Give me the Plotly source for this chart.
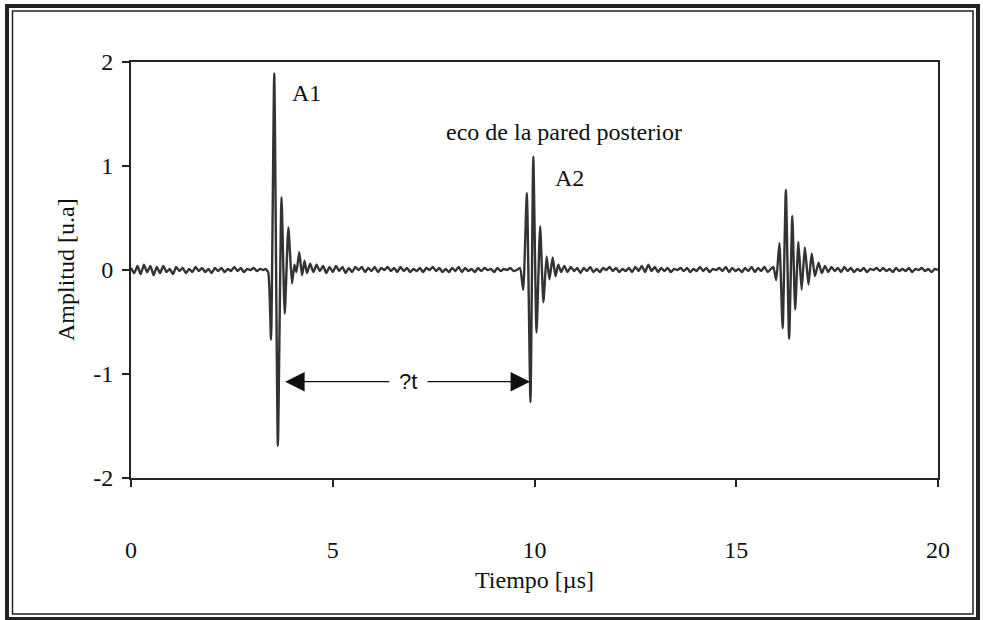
import numpy as np
import plotly.graph_objects as go

# ---------------- data ----------------
# baseline noise segments: start time, step, amplitudes
noise_a_start, noise_step = 0.0, 0.08
noise_a = [0.02, -0.03, 0.04, -0.04, 0.05, -0.02, 0.04, -0.05, 0.03, -0.03,
           0.04, -0.02, 0.01, -0.04, 0.03, -0.01, 0.02, -0.03, 0.01, -0.02,
           0.03, -0.01, 0.02, -0.02, 0.01, -0.03, 0.02, -0.01, 0.02, -0.02,
           0.01, -0.01, 0.03, -0.01, 0.02, -0.02, 0.01, 0.0, 0.02, -0.01,
           0.01, 0.0]

pulse1_t = [3.33, 3.40, 3.47, 3.55, 3.64, 3.73, 3.81, 3.90, 3.99, 4.05, 4.10, 4.17, 4.24, 4.30, 4.36]
pulse1_a = [0.01, -0.02, -0.67, 1.89, -1.69, 0.70, -0.42, 0.41, -0.13, 0.05, -0.02, 0.17, -0.05, 0.09, -0.03]

noise_b_start = 4.44
noise_b = [0.06, -0.02, 0.05, -0.01, 0.04, -0.03, 0.03, -0.02, 0.04, -0.01,
           0.03, -0.03, 0.02, -0.02, 0.03, 0.0, 0.03, -0.02, 0.02, -0.01,
           0.03, -0.02, 0.02, 0.0, 0.03, -0.01, 0.02, -0.02, 0.03, -0.01,
           0.02, -0.02, 0.01, -0.01, 0.02, -0.02, 0.02, 0.0, 0.03, -0.01,
           0.02, -0.02, 0.01, -0.02, 0.02, -0.01, 0.03, -0.02, 0.02, -0.01,
           0.01, -0.02, 0.02, -0.01, 0.02, 0.0, 0.01, -0.02, 0.02, -0.01,
           0.01, 0.0, 0.02, -0.01, 0.0]

pulse2_t = [9.64, 9.72, 9.81, 9.90, 9.97, 10.05, 10.14, 10.22, 10.30, 10.37, 10.45, 10.52, 10.59]
pulse2_a = [0.02, -0.19, 0.74, -1.27, 1.09, -0.60, 0.42, -0.31, 0.13, -0.09, 0.12, -0.06, 0.05]

noise_c_start = 10.66
noise_c = [-0.02, 0.04, -0.02, 0.03, -0.01, 0.02, -0.03, 0.02, -0.01, 0.03,
           -0.02, 0.01, -0.02, 0.02, 0.0, 0.03, -0.01, 0.02, -0.02, 0.01,
           -0.01, 0.02, -0.02, 0.03, -0.01, 0.04, -0.02, 0.05, -0.01, 0.03,
           -0.02, 0.02, -0.01, 0.02, -0.02, 0.01, 0.0, 0.02, -0.01, 0.02,
           -0.02, 0.01, -0.01, 0.03, -0.01, 0.02, -0.02, 0.01, 0.0, 0.02,
           -0.01, 0.03, -0.02, 0.02, -0.01, 0.01, -0.02, 0.02, -0.01, 0.03,
           -0.02, 0.02, -0.01, 0.03, -0.02, 0.01]

pulse3_t = [15.92, 15.99, 16.07, 16.15, 16.23, 16.31, 16.39, 16.46, 16.54, 16.62,
            16.70, 16.79, 16.87, 16.95, 17.04, 17.12, 17.20]
pulse3_a = [0.03, -0.10, 0.26, -0.56, 0.77, -0.66, 0.52, -0.38, 0.27, -0.19,
            0.22, -0.14, 0.16, -0.06, 0.07, -0.03, 0.04]

noise_d_start = 17.28
noise_d = [-0.02, 0.03, -0.01, 0.02, -0.02, 0.03, -0.01, 0.02, -0.02, 0.01,
           -0.01, 0.02, -0.02, 0.01, 0.0, 0.02, -0.01, 0.02, -0.01, 0.01,
           -0.02, 0.02, -0.01, 0.01, -0.01, 0.02, -0.02, 0.01, 0.0, 0.02,
           -0.01, 0.01, -0.02, 0.01, 0.0]

x_tick_vals = [0, 5, 10, 15, 20]
x_tick_text = ["0", "5", "10", "15", "20"]
y_tick_vals = [-2, -1, 0, 1, 2]
y_tick_text = ["-2", "-1", "0", "1", "2"]

x_title = "Tiempo [µs]"
y_title = "Amplitud [u.a]"

# ---------------- assemble series ----------------
def grid(start, vals):
    return list(np.round(start + noise_step * np.arange(len(vals)), 3))

t = (grid(noise_a_start, noise_a) + pulse1_t + grid(noise_b_start, noise_b) + pulse2_t
     + grid(noise_c_start, noise_c) + pulse3_t + grid(noise_d_start, noise_d))
a = noise_a + pulse1_a + noise_b + pulse2_a + noise_c + pulse3_a + noise_d

W, H = 983, 620
L, R, T, B = 131, 45, 62, 142
PW, PH = W - L - R, H - T - B

def px(xp):
    return (xp - L) / PW

def py(yp):
    return (H - B - yp) / PH

serif = "Liberation Serif, Times New Roman, serif"
sans = "Liberation Sans, Arial, sans-serif"
ink = "#222222"
FS = 24

fig = go.Figure()
fig.add_trace(go.Scatter(x=t, y=a, mode="lines",
                         line=dict(color="#333333", width=2.4, shape="spline", smoothing=0.5),
                         hoverinfo="skip", showlegend=False))

ann = [
    dict(x=3.94, y=1.70, text="A1", xanchor="left", yanchor="middle",
         showarrow=False, font=dict(family=serif, size=FS, color="#111")),
    dict(x=10.73, y=1.33, text="eco de la pared posterior", xanchor="center", yanchor="middle",
         showarrow=False, font=dict(family=serif, size=FS, color="#111")),
    dict(x=10.46, y=0.885, text="A2", xanchor="left", yanchor="middle",
         showarrow=False, font=dict(family=serif, size=FS, color="#111")),
    dict(x=6.86, y=-1.074, text="?t", xanchor="center", yanchor="middle",
         showarrow=False, font=dict(family=sans, size=22, color="#111")),
    dict(x=3.82, y=-1.074, ax=6.44, ay=-1.074, axref="x", ayref="y", text="",
         showarrow=True, arrowhead=2, arrowsize=3.0, arrowwidth=1.3, arrowcolor="#111"),
    dict(x=9.89, y=-1.074, ax=7.31, ay=-1.074, axref="x", ayref="y", text="",
         showarrow=True, arrowhead=2, arrowsize=3.0, arrowwidth=1.3, arrowcolor="#111"),
    dict(x=px(66), y=0.5, xref="paper", yref="paper", text=y_title, textangle=-90,
         showarrow=False, xanchor="center", yanchor="middle",
         font=dict(family=serif, size=FS, color="#111")),
    dict(x=0.5, y=py(580), xref="paper", yref="paper", text=x_title,
         showarrow=False, xanchor="center", yanchor="middle",
         font=dict(family=serif, size=FS, color="#111")),
]

shapes = [
    dict(type="rect", xref="paper", yref="paper",
         x0=px(7), x1=px(978), y0=py(619), y1=py(6),
         line=dict(color=ink, width=4)),
    dict(type="rect", xref="paper", yref="paper",
         x0=px(12.5), x1=px(973), y0=py(614), y1=py(11),
         line=dict(color=ink, width=1.5)),
]

fig.update_layout(
    width=W, height=H,
    margin=dict(l=L, r=R, t=T, b=B),
    paper_bgcolor="white", plot_bgcolor="white",
    annotations=ann, shapes=shapes,
    xaxis=dict(range=[0, 20], tickvals=x_tick_vals, ticktext=x_tick_text,
               ticks="outside", ticklen=7, tickwidth=2, tickcolor=ink,
               showline=True, linewidth=2, linecolor=ink, mirror=True,
               showgrid=False, zeroline=False, ticklabelstandoff=42,
               tickfont=dict(family=serif, size=FS, color="#111")),
    yaxis=dict(range=[-2, 2], tickvals=y_tick_vals, ticktext=y_tick_text,
               ticks="outside", ticklen=7, tickwidth=2, tickcolor=ink,
               showline=True, linewidth=2, linecolor=ink, mirror=True,
               showgrid=False, zeroline=False, ticklabelstandoff=4,
               tickfont=dict(family=serif, size=FS, color="#111")),
)

fig.write_html("out.html")
